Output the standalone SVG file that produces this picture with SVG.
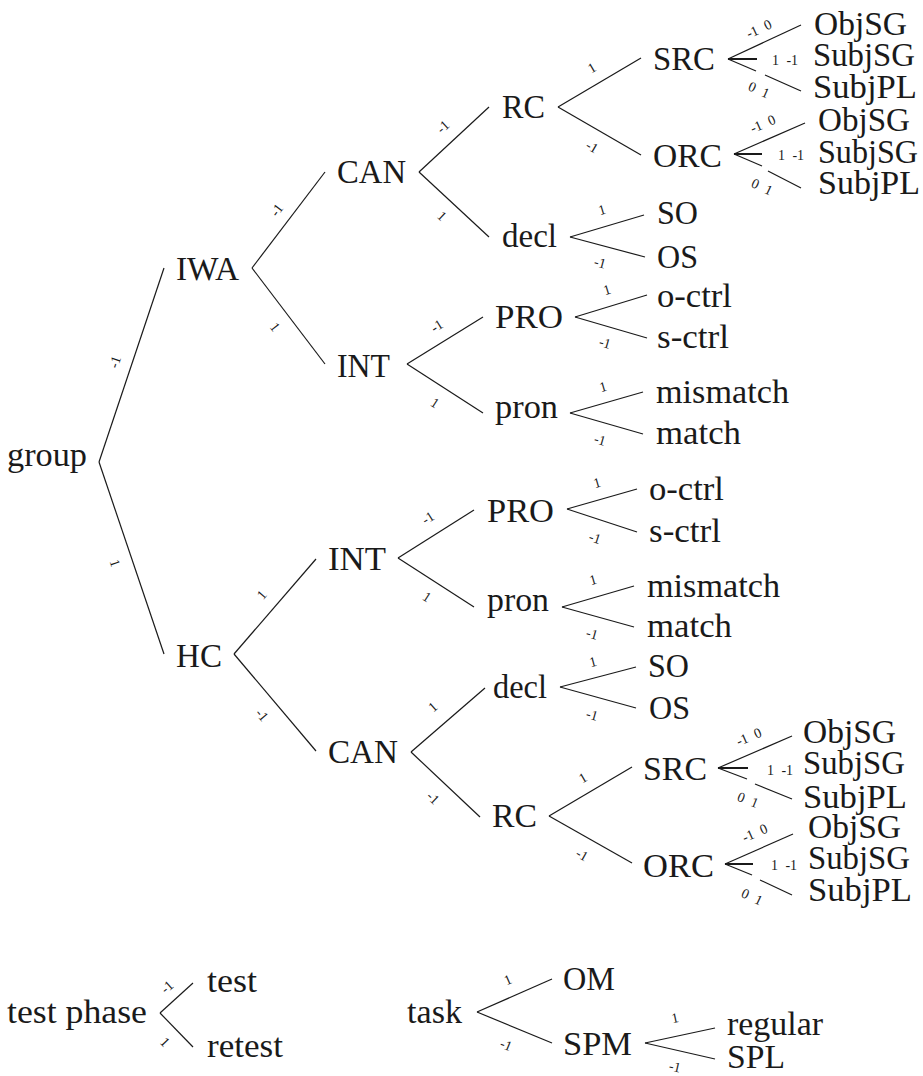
<svg xmlns="http://www.w3.org/2000/svg" width="923" height="1076" viewBox="0 0 923 1076">
<style>
.n{font-family:'Liberation Serif',serif;font-size:33px;fill:#1a1a1a}
.e line{stroke:#1a1a1a;stroke-width:1.2;fill:none}
.e .b{stroke-width:2}
.l{font-family:'Liberation Serif',serif;font-size:14px;fill:#1a1a1a;text-anchor:middle;dominant-baseline:central;word-spacing:4px}
</style>
<rect width="923" height="1076" fill="#fff"/>
<g id="connectors" class="e">
<line x1="99" y1="462" x2="164" y2="268"/>
<line x1="99" y1="462" x2="164" y2="654"/>
<line x1="252" y1="268" x2="325" y2="172"/>
<line x1="252" y1="268" x2="325" y2="364"/>
<line x1="419" y1="172" x2="489" y2="107"/>
<line x1="419" y1="172" x2="489" y2="237"/>
<line x1="407" y1="364" x2="483" y2="317"/>
<line x1="407" y1="364" x2="483" y2="413"/>
<line x1="558" y1="107" x2="641" y2="58"/>
<line x1="558" y1="107" x2="641" y2="155"/>
<line x1="570" y1="237" x2="644" y2="215"/>
<line x1="570" y1="237" x2="645" y2="257"/>
<line x1="575" y1="317" x2="647" y2="295"/>
<line x1="575" y1="317" x2="647" y2="338"/>
<line x1="570" y1="413" x2="643" y2="392"/>
<line x1="570" y1="413" x2="643" y2="434"/>
<line x1="728" y1="59" x2="801" y2="25"/>
<line class="b" x1="728" y1="59" x2="757" y2="59"/>
<line x1="728" y1="59" x2="756" y2="71"/>
<line x1="765" y1="75" x2="801" y2="91"/>
<line x1="734" y1="154" x2="805" y2="123"/>
<line class="b" x1="734" y1="154" x2="762" y2="154"/>
<line x1="734" y1="154" x2="762" y2="166"/>
<line x1="768" y1="171" x2="801" y2="188"/>
<line x1="234" y1="654" x2="316" y2="559"/>
<line x1="234" y1="654" x2="316" y2="751"/>
<line x1="398" y1="558" x2="474" y2="510"/>
<line x1="398" y1="558" x2="474" y2="607"/>
<line x1="411" y1="752" x2="485" y2="688"/>
<line x1="411" y1="752" x2="480" y2="817"/>
<line x1="567" y1="509" x2="637" y2="489"/>
<line x1="567" y1="509" x2="637" y2="532"/>
<line x1="562" y1="607" x2="634" y2="586"/>
<line x1="562" y1="607" x2="634" y2="627"/>
<line x1="560" y1="687" x2="636" y2="667"/>
<line x1="560" y1="687" x2="636" y2="708"/>
<line x1="549" y1="816" x2="632" y2="767"/>
<line x1="549" y1="816" x2="632" y2="863"/>
<line x1="718" y1="768" x2="792" y2="736"/>
<line class="b" x1="718" y1="768" x2="748" y2="768"/>
<line x1="718" y1="768" x2="747" y2="779"/>
<line x1="755" y1="784" x2="792" y2="799"/>
<line x1="725" y1="864" x2="793" y2="834"/>
<line class="b" x1="725" y1="864" x2="753" y2="864"/>
<line x1="725" y1="864" x2="752" y2="875"/>
<line x1="760" y1="880" x2="792" y2="895"/>
<line x1="160" y1="1013" x2="193" y2="983"/>
<line x1="160" y1="1013" x2="193" y2="1047"/>
<line x1="477" y1="1012" x2="552" y2="979"/>
<line x1="477" y1="1012" x2="552" y2="1043"/>
<line x1="645" y1="1043" x2="715" y2="1028"/>
<line x1="645" y1="1043" x2="715" y2="1059"/>
</g>
<g id="edge-labels">
<text class="l" x="115" y="362" transform="rotate(-71.5 115 362)">-1</text>
<text class="l" x="115" y="563" transform="rotate(71.3 115 563)">1</text>
<text class="l" x="277" y="210" transform="rotate(-52.7 277 210)">-1</text>
<text class="l" x="275" y="327" transform="rotate(52.7 275 327)">1</text>
<text class="l" x="443" y="127" transform="rotate(-42.9 443 127)">-1</text>
<text class="l" x="442" y="216" transform="rotate(42.9 442 216)">1</text>
<text class="l" x="437" y="326" transform="rotate(-31.7 437 326)">-1</text>
<text class="l" x="435" y="403" transform="rotate(32.8 435 403)">1</text>
<text class="l" x="592" y="68" transform="rotate(-30.6 592 68)">1</text>
<text class="l" x="592" y="147" transform="rotate(30 592 147)">-1</text>
<text class="l" x="602" y="210" transform="rotate(-16.6 602 210)">1</text>
<text class="l" x="600" y="263" transform="rotate(15 600 263)">-1</text>
<text class="l" x="607" y="290" transform="rotate(-17 607 290)">1</text>
<text class="l" x="605" y="343" transform="rotate(16 605 343)">-1</text>
<text class="l" x="603" y="387" transform="rotate(-16 603 387)">1</text>
<text class="l" x="600" y="440" transform="rotate(16 600 440)">-1</text>
<text class="l" x="759" y="29" transform="rotate(-25 759 29)">-1 0</text>
<text class="l" x="785" y="60">1 -1</text>
<text class="l" x="759" y="90" transform="rotate(23.7 759 90)">0 1</text>
<text class="l" x="763" y="124" transform="rotate(-23.6 763 124)">-1 0</text>
<text class="l" x="791" y="155">1 -1</text>
<text class="l" x="762" y="187" transform="rotate(25 762 187)">0 1</text>
<text class="l" x="262" y="595" transform="rotate(-49.2 262 595)">1</text>
<text class="l" x="262" y="715" transform="rotate(49.8 262 715)">-1</text>
<text class="l" x="428" y="518" transform="rotate(-32.3 428 518)">-1</text>
<text class="l" x="427" y="597" transform="rotate(32.8 427 597)">1</text>
<text class="l" x="433" y="707" transform="rotate(-40.9 433 707)">1</text>
<text class="l" x="433" y="798" transform="rotate(43.3 433 798)">-1</text>
<text class="l" x="597" y="483" transform="rotate(-16 597 483)">1</text>
<text class="l" x="595" y="538" transform="rotate(18 595 538)">-1</text>
<text class="l" x="593" y="580" transform="rotate(-16 593 580)">1</text>
<text class="l" x="592" y="634" transform="rotate(15.5 592 634)">-1</text>
<text class="l" x="593" y="662" transform="rotate(-14.7 593 662)">1</text>
<text class="l" x="592" y="715" transform="rotate(15.4 592 715)">-1</text>
<text class="l" x="583" y="778" transform="rotate(-30.6 583 778)">1</text>
<text class="l" x="582" y="855" transform="rotate(29.5 582 855)">-1</text>
<text class="l" x="749" y="737" transform="rotate(-23.4 749 737)">-1 0</text>
<text class="l" x="780" y="770">1 -1</text>
<text class="l" x="748" y="800" transform="rotate(22 748 800)">0 1</text>
<text class="l" x="755" y="833" transform="rotate(-23.8 755 833)">-1 0</text>
<text class="l" x="784" y="865">1 -1</text>
<text class="l" x="752" y="897" transform="rotate(25 752 897)">0 1</text>
<text class="l" x="167" y="987" transform="rotate(-42 167 987)">-1</text>
<text class="l" x="165" y="1042" transform="rotate(45.8 165 1042)">1</text>
<text class="l" x="508" y="980" transform="rotate(-23.7 508 980)">1</text>
<text class="l" x="506" y="1045" transform="rotate(22.5 506 1045)">-1</text>
<text class="l" x="675" y="1018" transform="rotate(-12 675 1018)">1</text>
<text class="l" x="675" y="1067" transform="rotate(12.9 675 1067)">-1</text>
</g>
<g id="node-group"><text class="n" x="7" y="466" textLength="80" lengthAdjust="spacingAndGlyphs">group</text></g>
<g id="node-IWA"><text class="n" x="176" y="280" textLength="63" lengthAdjust="spacingAndGlyphs">IWA</text></g>
<g id="node-IWA-CAN"><text class="n" x="337" y="183" textLength="69" lengthAdjust="spacingAndGlyphs">CAN</text></g>
<g id="node-IWA-INT"><text class="n" x="337" y="377" textLength="53" lengthAdjust="spacingAndGlyphs">INT</text></g>
<g id="node-IWA-RC"><text class="n" x="502" y="118" textLength="43" lengthAdjust="spacingAndGlyphs">RC</text></g>
<g id="node-IWA-SRC"><text class="n" x="653" y="70" textLength="62" lengthAdjust="spacingAndGlyphs">SRC</text></g>
<g id="node-IWA-ORC"><text class="n" x="653" y="167" textLength="69" lengthAdjust="spacingAndGlyphs">ORC</text></g>
<g id="node-IWA-SRC-ObjSG"><text class="n" x="814" y="35" textLength="93" lengthAdjust="spacingAndGlyphs">ObjSG</text></g>
<g id="node-IWA-SRC-SubjSG"><text class="n" x="813" y="66" textLength="102" lengthAdjust="spacingAndGlyphs">SubjSG</text></g>
<g id="node-IWA-SRC-SubjPL"><text class="n" x="813" y="98" textLength="104" lengthAdjust="spacingAndGlyphs">SubjPL</text></g>
<g id="node-IWA-ORC-ObjSG"><text class="n" x="818" y="131" textLength="92" lengthAdjust="spacingAndGlyphs">ObjSG</text></g>
<g id="node-IWA-ORC-SubjSG"><text class="n" x="818" y="163" textLength="100" lengthAdjust="spacingAndGlyphs">SubjSG</text></g>
<g id="node-IWA-ORC-SubjPL"><text class="n" x="818" y="194" textLength="102" lengthAdjust="spacingAndGlyphs">SubjPL</text></g>
<g id="node-IWA-decl"><text class="n" x="502" y="247" textLength="55" lengthAdjust="spacingAndGlyphs">decl</text></g>
<g id="node-IWA-SO"><text class="n" x="657" y="224" textLength="41" lengthAdjust="spacingAndGlyphs">SO</text></g>
<g id="node-IWA-OS"><text class="n" x="657" y="268" textLength="41" lengthAdjust="spacingAndGlyphs">OS</text></g>
<g id="node-IWA-PRO"><text class="n" x="495" y="328" textLength="68" lengthAdjust="spacingAndGlyphs">PRO</text></g>
<g id="node-IWA-o-ctrl"><text class="n" x="657" y="307" textLength="75" lengthAdjust="spacingAndGlyphs">o-ctrl</text></g>
<g id="node-IWA-s-ctrl"><text class="n" x="657" y="348" textLength="72" lengthAdjust="spacingAndGlyphs">s-ctrl</text></g>
<g id="node-IWA-pron"><text class="n" x="495" y="418" textLength="63" lengthAdjust="spacingAndGlyphs">pron</text></g>
<g id="node-IWA-mismatch"><text class="n" x="656" y="403" textLength="133" lengthAdjust="spacingAndGlyphs">mismatch</text></g>
<g id="node-IWA-match"><text class="n" x="656" y="444" textLength="85" lengthAdjust="spacingAndGlyphs">match</text></g>
<g id="node-HC"><text class="n" x="176" y="667" textLength="46" lengthAdjust="spacingAndGlyphs">HC</text></g>
<g id="node-HC-INT"><text class="n" x="328" y="570" textLength="58" lengthAdjust="spacingAndGlyphs">INT</text></g>
<g id="node-HC-CAN"><text class="n" x="328" y="763" textLength="70" lengthAdjust="spacingAndGlyphs">CAN</text></g>
<g id="node-HC-PRO"><text class="n" x="487" y="522" textLength="67" lengthAdjust="spacingAndGlyphs">PRO</text></g>
<g id="node-HC-o-ctrl"><text class="n" x="649" y="500" textLength="75" lengthAdjust="spacingAndGlyphs">o-ctrl</text></g>
<g id="node-HC-s-ctrl"><text class="n" x="649" y="542" textLength="72" lengthAdjust="spacingAndGlyphs">s-ctrl</text></g>
<g id="node-HC-pron"><text class="n" x="487" y="611" textLength="62" lengthAdjust="spacingAndGlyphs">pron</text></g>
<g id="node-HC-mismatch"><text class="n" x="647" y="597" textLength="133" lengthAdjust="spacingAndGlyphs">mismatch</text></g>
<g id="node-HC-match"><text class="n" x="647" y="637" textLength="85" lengthAdjust="spacingAndGlyphs">match</text></g>
<g id="node-HC-decl"><text class="n" x="493" y="698" textLength="54" lengthAdjust="spacingAndGlyphs">decl</text></g>
<g id="node-HC-SO"><text class="n" x="648" y="677" textLength="41" lengthAdjust="spacingAndGlyphs">SO</text></g>
<g id="node-HC-OS"><text class="n" x="649" y="719" textLength="41" lengthAdjust="spacingAndGlyphs">OS</text></g>
<g id="node-HC-RC"><text class="n" x="492" y="827" textLength="45" lengthAdjust="spacingAndGlyphs">RC</text></g>
<g id="node-HC-SRC"><text class="n" x="643" y="780" textLength="64" lengthAdjust="spacingAndGlyphs">SRC</text></g>
<g id="node-HC-ORC"><text class="n" x="643" y="877" textLength="71" lengthAdjust="spacingAndGlyphs">ORC</text></g>
<g id="node-HC-SRC-ObjSG"><text class="n" x="803" y="743" textLength="93" lengthAdjust="spacingAndGlyphs">ObjSG</text></g>
<g id="node-HC-SRC-SubjSG"><text class="n" x="803" y="774" textLength="102" lengthAdjust="spacingAndGlyphs">SubjSG</text></g>
<g id="node-HC-SRC-SubjPL"><text class="n" x="803" y="808" textLength="104" lengthAdjust="spacingAndGlyphs">SubjPL</text></g>
<g id="node-HC-ORC-ObjSG"><text class="n" x="808" y="838" textLength="93" lengthAdjust="spacingAndGlyphs">ObjSG</text></g>
<g id="node-HC-ORC-SubjSG"><text class="n" x="808" y="869" textLength="102" lengthAdjust="spacingAndGlyphs">SubjSG</text></g>
<g id="node-HC-ORC-SubjPL"><text class="n" x="808" y="901" textLength="104" lengthAdjust="spacingAndGlyphs">SubjPL</text></g>
<g id="node-testphase"><text class="n" x="7" y="1023" textLength="140" lengthAdjust="spacingAndGlyphs">test phase</text></g>
<g id="node-test"><text class="n" x="207" y="992" textLength="50" lengthAdjust="spacingAndGlyphs">test</text></g>
<g id="node-retest"><text class="n" x="207" y="1057" textLength="76" lengthAdjust="spacingAndGlyphs">retest</text></g>
<g id="node-task"><text class="n" x="407" y="1023" textLength="55" lengthAdjust="spacingAndGlyphs">task</text></g>
<g id="node-OM"><text class="n" x="563" y="990" textLength="52" lengthAdjust="spacingAndGlyphs">OM</text></g>
<g id="node-SPM"><text class="n" x="563" y="1055" textLength="69" lengthAdjust="spacingAndGlyphs">SPM</text></g>
<g id="node-regular"><text class="n" x="727" y="1035" textLength="96" lengthAdjust="spacingAndGlyphs">regular</text></g>
<g id="node-SPL"><text class="n" x="727" y="1068" textLength="58" lengthAdjust="spacingAndGlyphs">SPL</text></g>
</svg>
